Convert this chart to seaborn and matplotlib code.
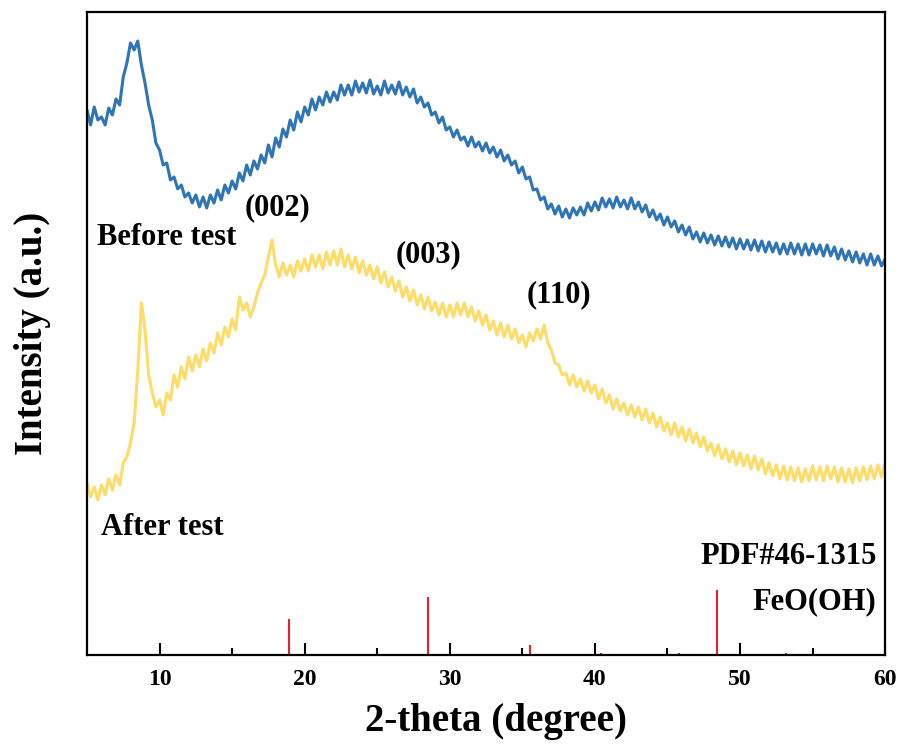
import numpy as np
import pandas as pd
import seaborn as sns
import matplotlib.pyplot as plt

# 2-theta grid, 0.25 degree step from 5 to 60
two_theta = np.linspace(5, 60, 221)

# intensity (arbitrary units), 4 points per degree
before_test = [
    545, 530, 548, 535,  538, 530, 547, 540,  556, 550, 578, 592,  612, 605, 614, 590,
    572, 550, 535, 512,  505, 490, 492, 475,  478, 466, 470, 458,  462, 452, 460, 448,
    458, 447, 460, 452,  465, 455, 470, 462,  474, 466, 482, 474,  490, 480, 494, 486,
    500, 492, 510, 498,  517, 508, 526, 518,  535, 525, 543, 533,  548, 540, 556, 545,
    558, 550, 563, 553,  563, 555, 570, 560,  570, 560, 574, 563,  572, 562, 575, 561,
    569, 560, 574, 562,  570, 561, 573, 560,  568, 558, 566, 552,  558, 548, 552, 540,
    543, 532, 538, 525,  528, 518, 525, 515,  518, 509, 518, 508,  513, 504, 512, 502,
    508, 498, 505, 494,  500, 490, 494, 482,  488, 476, 478, 465,  466, 455, 458, 446,
    451, 441, 449, 438,  446, 437, 447, 440,  448, 440, 452, 444,  453, 445, 457, 448,
    456, 447, 458, 448,  455, 446, 457, 446,  453, 443, 450, 438,  445, 435, 441, 430,
    438, 428, 434, 423,  430, 420, 428, 416,  423, 413, 422, 412,  420, 410, 419, 409,
    418, 408, 417, 406,  416, 406, 415, 405,  415, 404, 414, 403,  413, 403, 412, 401,
    411, 401, 412, 401,  411, 400, 411, 400,  411, 401, 410, 399,  410, 399, 408, 396,
    406, 395, 404, 393,  403, 392, 401, 390,  401, 390, 399, 389,  396,
]

after_test = [
    172, 158, 168, 155,  170, 160, 176, 165,  180, 170, 192, 198,  212, 232, 285, 352,
    325, 280, 262, 248,  255, 240, 262, 255,  280, 268, 288, 276,  298, 284, 300, 288,
    306, 294, 312, 302,  322, 310, 328, 318,  336, 325, 358, 345,  352, 338, 348, 362,
    372, 380, 398, 415,  390, 378, 392, 380,  390, 378, 394, 384,  396, 384, 400, 388,
    400, 386, 403, 390,  404, 390, 406, 388,  400, 386, 398, 382,  394, 380, 390, 376,
    388, 372, 383, 368,  378, 364, 374, 358,  368, 354, 365, 350,  360, 346, 358, 344,
    353, 340, 352, 338,  350, 338, 352, 340,  352, 338, 348, 334,  344, 330, 340, 325,
    334, 320, 332, 318,  330, 316, 326, 312,  320, 308, 322, 314,  326, 316, 330, 312,
    305, 292, 290, 280,  282, 270, 280, 268,  276, 264, 274, 262,  270, 256, 266, 252,
    260, 246, 256, 244,  252, 240, 250, 238,  248, 235, 246, 232,  242, 228, 238, 224,
    232, 220, 232, 218,  228, 214, 226, 212,  222, 208, 218, 204,  212, 199, 210, 196,
    206, 193, 204, 190,  202, 189, 200, 186,  199, 185, 196, 181,  192, 179, 190, 176,
    189, 175, 188, 174,  187, 173, 186, 174,  189, 175, 188, 174,  189, 176, 188, 173,
    187, 173, 186, 172,  187, 174, 188, 175,  189, 176, 190, 178,  192,
]

# PDF#46-1315 reference pattern
ref_pos = [18.9, 28.5, 35.5, 40.4, 45.8, 48.4, 53.2]
ref_height = [36, 58, 10, 2, 2, 65, 2]

# peak labels
hkl_labels = ["(002)", "(003)", "(110)"]
hkl_x = [18.1, 28.5, 37.5]
hkl_y = [447, 400, 360]

df = pd.DataFrame({"two_theta": two_theta, "before": before_test, "after": after_test})

sns.set_style("ticks")
plt.rcParams["font.family"] = ["Liberation Serif", "DejaVu Serif"]
plt.rcParams["font.weight"] = "bold"
plt.rcParams["text.color"] = "black"
plt.rcParams["axes.labelcolor"] = "black"
plt.rcParams["xtick.color"] = "black"

fig, ax = plt.subplots(figsize=(9.06, 7.51), dpi=100)
fig.subplots_adjust(left=0.096, right=0.977, top=0.984, bottom=0.128)

sns.lineplot(data=df, x="two_theta", y="before", color="#2f74b5", linewidth=2.2, ax=ax)
sns.lineplot(data=df, x="two_theta", y="after", color="#fddc68", linewidth=2.2, ax=ax)
ax.vlines(ref_pos, 0, ref_height, color="#e8202a", linewidth=1.5)

fs = 22
ax.text(5.7, 417, "Before test", fontsize=fs, fontweight="bold", va="center", ha="left")
ax.text(6.0, 127, "After test", fontsize=fs, fontweight="bold", va="center", ha="left")
for lab, x, y in zip(hkl_labels, hkl_x, hkl_y):
    ax.text(x, y, lab, fontsize=fs, fontweight="bold", va="center", ha="center")
ax.text(59.4, 98, "PDF#46-1315", fontsize=fs, fontweight="bold", va="center", ha="right")
ax.text(59.4, 53, "FeO(OH)", fontsize=fs, fontweight="bold", va="center", ha="right")

ax.set_xlim(5, 60)
ax.set_ylim(0, 643)
ax.set_xticks([10, 20, 30, 40, 50, 60])
ax.set_xticks([15, 25, 35, 45, 55], minor=True)
ax.set_yticks([])
ax.tick_params(axis="x", which="major", direction="in", length=9, width=1.5,
               labelsize=17, pad=10, top=False)
ax.tick_params(axis="x", which="minor", direction="in", length=5, width=1.5, top=False)
for lab in ax.get_xticklabels():
    lab.set_fontweight("bold")
for sp in ax.spines.values():
    sp.set_linewidth(1.6)
    sp.set_color("black")

ax.set_xlabel("2-theta (degree)", fontsize=28, fontweight="bold", labelpad=10)
ax.xaxis.set_label_coords(0.513, -0.075)
ax.set_ylabel("Intensity (a.u.)", fontsize=28, fontweight="bold", labelpad=26)

fig.savefig("out.png", dpi=100)
